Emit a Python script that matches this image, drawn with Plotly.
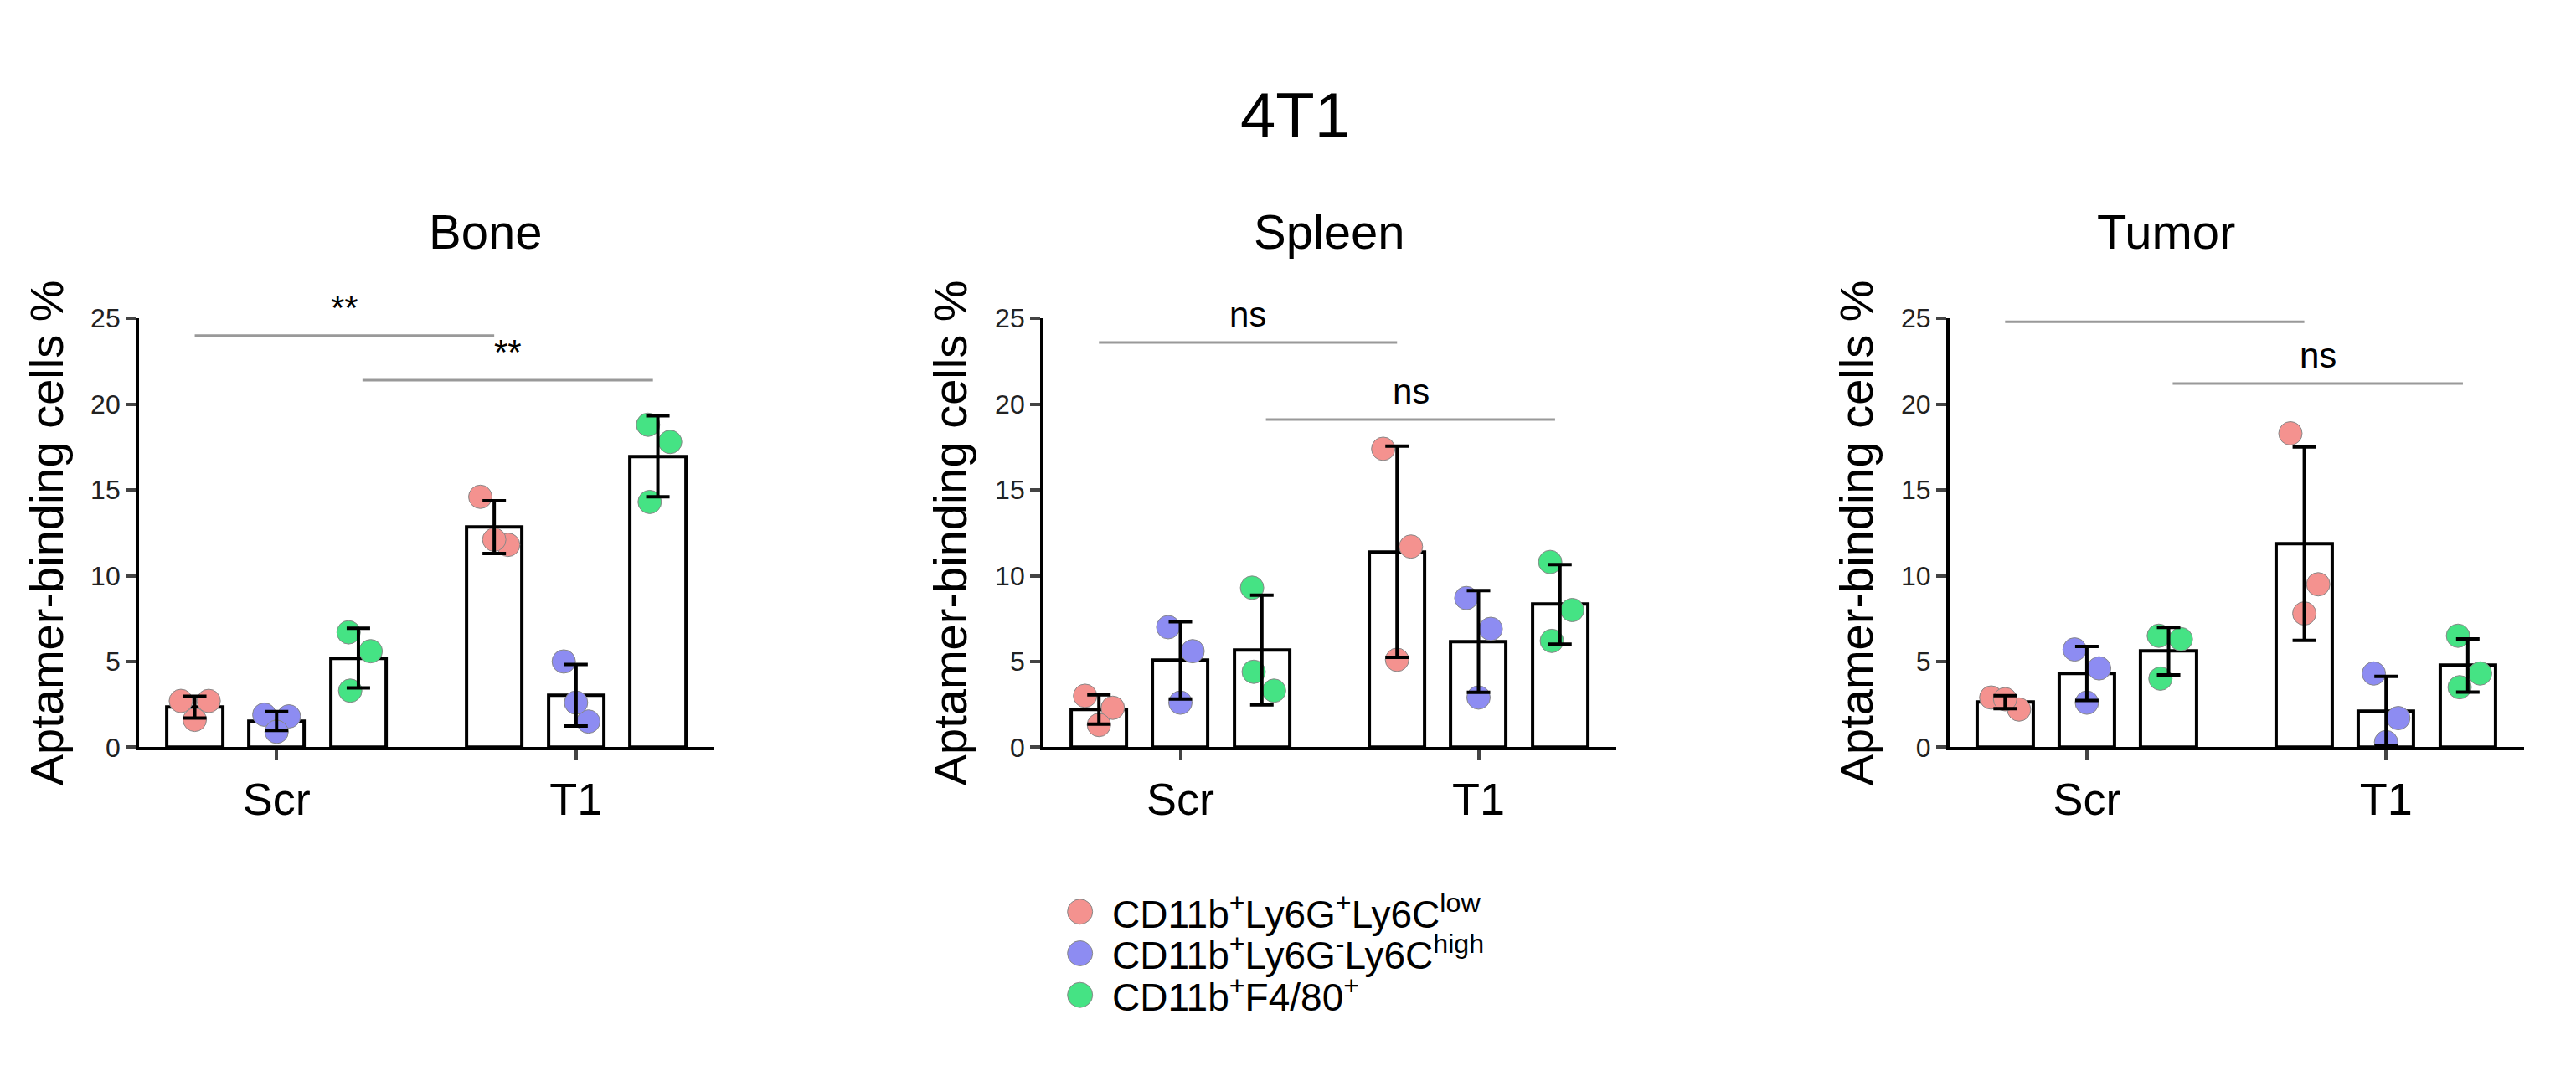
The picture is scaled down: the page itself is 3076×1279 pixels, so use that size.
import numpy as np
import plotly.graph_objects as go

panels = ["Bone", "Spleen", "Tumor"]
groups = ["Scr", "T1"]
populations = ["CD11b<sup>+</sup>Ly6G<sup>+</sup>Ly6C<sup>low</sup>",
               "CD11b<sup>+</sup>Ly6G<sup>-</sup>Ly6C<sup>high</sup>",
               "CD11b<sup>+</sup>F4/80<sup>+</sup>"]
colors = ["#f4928f", "#8d8cf2", "#45e384"]

# points per panel: [Scr red, Scr blue, Scr green, T1 red, T1 blue, T1 green]
bone = [[2.7, 2.7, 1.6], [1.9, 1.8, 0.9], [6.7, 5.6, 3.3],
        [14.6, 11.8, 12.1], [5.0, 1.5, 2.6], [18.8, 17.8, 14.3]]
spleen = [[3.0, 2.3, 1.3], [7.0, 5.6, 2.6], [9.3, 3.3, 4.4],
          [17.4, 11.7, 5.1], [8.7, 6.9, 2.9], [10.8, 8.0, 6.2]]
tumor = [[2.9, 2.2, 2.8], [5.7, 4.6, 2.6], [6.5, 6.3, 4.0],
         [18.3, 9.5, 7.8], [4.3, 1.7, 0.3], [6.5, 4.3, 3.5]]
panel_data = [bone, spleen, tumor]

# significance brackets: (y, label, y2, label2)
sig = [(24.0, "**", 21.4, "**"), (23.6, "ns", 19.1, "ns"), (24.8, "*", 21.2, "ns")]

bar_x = [0, 1, 2, 3.66, 4.66, 5.66]
jitter = [[-0.17, 0.17, 0.0], [-0.15, 0.15, 0.0], [-0.12, 0.15, -0.1]]
domains = [(0.0514, 0.2747), (0.4025, 0.6248), (0.7542, 0.9773)]

fig = go.Figure()
font = "Liberation Sans, Arial, sans-serif"

for p, (name, data) in enumerate(zip(panels, panel_data)):
    xa = "x" if p == 0 else f"x{p+1}"
    ya = "y" if p == 0 else f"y{p+1}"
    means = [np.mean(v) for v in data]
    sds = [np.std(v, ddof=1) for v in data]
    fig.add_trace(go.Bar(x=bar_x, y=means, width=0.68, xaxis=xa, yaxis=ya,
                         marker=dict(color="white", line=dict(color="black", width=4)),
                         showlegend=False, hoverinfo="skip"))
    for i, vals in enumerate(data):
        c = i % 3
        fig.add_trace(go.Scatter(
            x=[bar_x[i] + j for j in jitter[i % 3]], y=vals, mode="markers",
            xaxis=xa, yaxis=ya, name=populations[c], showlegend=False,
            marker=dict(color=colors[c], size=28, line=dict(color="#888", width=1))))
    fig.add_trace(go.Scatter(x=bar_x, y=means, mode="markers", xaxis=xa, yaxis=ya,
                             marker=dict(size=1, color="rgba(0,0,0,0)"), showlegend=False,
                             error_y=dict(type="data", array=sds, color="black",
                                          thickness=4, width=14)))
    y1, l1, y2, l2 = sig[p]
    fig.add_trace(go.Scatter(x=[0, 3.66], y=[y1, y1], mode="lines", xaxis=xa, yaxis=ya,
                             line=dict(color="#999", width=3), showlegend=False))
    fig.add_trace(go.Scatter(x=[2.05, 5.6], y=[y2, y2], mode="lines", xaxis=xa, yaxis=ya,
                             line=dict(color="#999", width=3), showlegend=False))
    fig.add_annotation(x=1.83, y=y1 + 0.4, text=l1, xref=xa, yref=ya, showarrow=False,
                       yanchor="bottom", font=dict(size=42, color="black", family=font))
    fig.add_annotation(x=3.83, y=y2 + 0.4, text=l2, xref=xa, yref=ya, showarrow=False,
                       yanchor="bottom", font=dict(size=42, color="black", family=font))
    d = domains[p]
    fig.add_annotation(x=(d[0] + d[1]) / 2, y=0.826, xref="paper", yref="paper",
                       text=name, showarrow=False, font=dict(size=58, color="black", family=font))
    fig.layout[("xaxis" if p == 0 else f"xaxis{p+1}")] = dict(
        domain=d, range=[-0.68, 6.35], tickvals=[1, 4.66], ticktext=groups,
        showline=True, linecolor="black", linewidth=4, ticks="outside", ticklen=12,
        tickwidth=4, tickfont=dict(size=54, color="black", family=font), showgrid=False,
        zeroline=False, anchor=ya)
    fig.layout[("yaxis" if p == 0 else f"yaxis{p+1}")] = dict(
        domain=(0.303, 0.715), range=[0, 25], tickvals=[0, 5, 10, 15, 20, 25],
        showline=True, linecolor="black", linewidth=4, ticks="outside", ticklen=12,
        tickwidth=4, tickfont=dict(size=32, color="#222", family=font), showgrid=False,
        zeroline=False, anchor=xa,
        title=dict(text="Aptamer-binding cells %", standoff=16,
                   font=dict(size=56, color="black", family=font)))

# legend drawn on a hidden axis so the markers keep their size
leg_y = [3, 2, 1]
fig.add_trace(go.Scatter(x=[0, 0, 0], y=leg_y, mode="markers", xaxis="x4", yaxis="y4",
                         marker=dict(color=colors, size=30, line=dict(color="#888", width=1)),
                         showlegend=False, hoverinfo="skip"))
for txt, yy in zip(populations, leg_y):
    fig.add_annotation(x=0.5, y=yy, xref="x4", yref="y4", text=txt, showarrow=False,
                       xanchor="left", font=dict(size=46, color="black", family=font))
fig.update_layout(
    xaxis4=dict(domain=[0.405, 0.65], range=[-0.5, 10], visible=False, anchor="y4"),
    yaxis4=dict(domain=[0.045, 0.165], range=[0.5, 3.5], visible=False, anchor="x4"),
)

fig.add_annotation(x=0.5, y=0.946, xref="paper", yref="paper", text="4T1",
                   showarrow=False, font=dict(size=76, color="black", family=font))

fig.update_layout(
    width=3076, height=1279, margin=dict(l=0, r=0, t=0, b=0),
    plot_bgcolor="white", paper_bgcolor="white", bargap=0, showlegend=False,
)

fig.write_html("out.html")
